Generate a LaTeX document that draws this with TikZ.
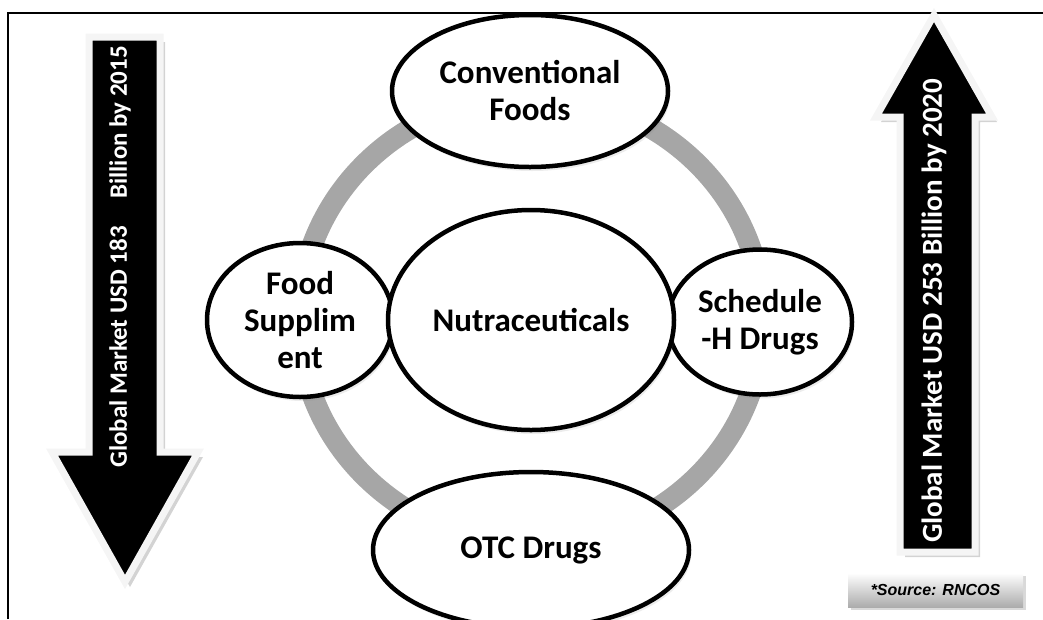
\documentclass[tikz,border=0pt]{standalone}
\usepackage{fontspec}
\setmainfont{Carlito}
\newfontfamily\srcfont{Liberation Sans}
\usetikzlibrary{shapes.geometric,shadows,positioning}

\tikzset{
	ring/.style={draw=gray!70, line width=21pt},
	bubble/.style={ellipse, draw=black, line width=4.5pt, fill=white, inner sep=0pt, align=center,
		font=\fontsize{33}{37}\selectfont\bfseries,
		drop shadow={opacity=0.15, shadow xshift=2pt, shadow yshift=-4pt}},
	bigarrow/.style={fill=black, draw=gray!8, line width=7pt, line join=miter,
		drop shadow={opacity=0.35, shadow xshift=5pt, shadow yshift=-5pt}},
	arrowlbl/.style={rotate=90, text=white, inner sep=0pt},
	srcbox/.style={minimum width=175pt, minimum height=34pt, inner sep=0pt,
		top color=white, bottom color=gray!65,
		drop shadow={opacity=0.3, shadow xshift=3pt, shadow yshift=-3pt},
		font=\srcfont\fontsize{16}{18}\selectfont\bfseries\itshape}
}

\begin{document}
\begin{tikzpicture}[x=1pt,y=-1pt]
	\useasboundingbox (0,0) rectangle (1043,619);
	% frame
	\draw[line width=1.5pt] (8,619) -- (8,13) -- (1043,13);
	% ring behind the bubbles
	\draw[ring] (531,320) ellipse [x radius=232, y radius=224];
	% bubbles
	\node[bubble, minimum width=276pt, minimum height=152pt] (conv) at (530,91) {Conventional\\Foods};
	\node[bubble, minimum width=186pt, minimum height=154pt] (food) at (300,320) {Food\\Supplim\\ent};
	\node[bubble, minimum width=184pt, minimum height=145pt] (sched) at (760,322) {Schedule\\-H Drugs};
	\node[bubble, minimum width=316pt, minimum height=156pt] (otc) at (531,550) {OTC Drugs};
	\node[bubble, minimum width=286pt, minimum height=220pt] (nutra) at (531,320) {Nutraceuticals};
	% market arrows
	\filldraw[bigarrow] (89,37) -- (160,37) -- (160,452) -- (198,452) -- (125,582) -- (52,452) -- (89,452) -- cycle;
	\filldraw[bigarrow] (900,552) -- (975,552) -- (975,117) -- (992,117) -- (934,15) -- (876,117) -- (900,117) -- cycle;
	\node[arrowlbl, font=\fontsize{25}{28}\selectfont\bfseries] (lefttxt) at (120,257)
		{Global Market USD 183\hspace{1.1em}Billion by 2015};
	\node[arrowlbl, font=\fontsize{29}{33}\selectfont\bfseries] (righttxt) at (934,311)
		{Global Market USD 253 Billion by 2020};
	% source
	\node[srcbox] (source) at (935.5,590) {*Source: RNCOS};
\end{tikzpicture}
\end{document}
